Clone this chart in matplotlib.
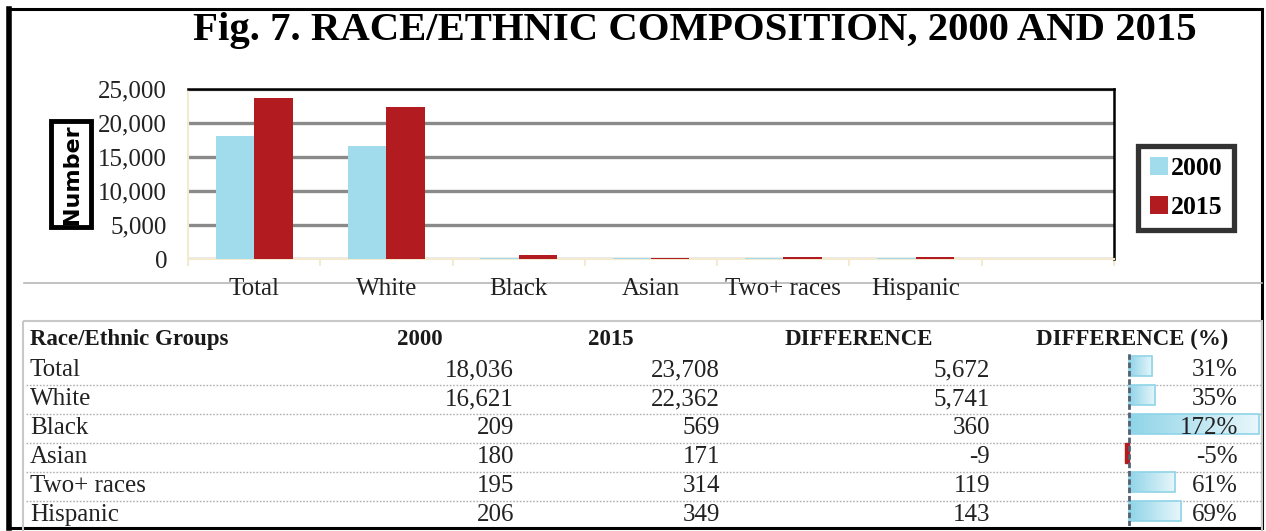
import matplotlib
matplotlib.use("Agg")
import matplotlib.pyplot as plt
import numpy as np
from matplotlib.patches import Rectangle
from matplotlib.lines import Line2D
from matplotlib.colors import LinearSegmentedColormap

# ---------------- data ----------------
categories = ["Total", "White", "Black", "Asian", "Two+ races", "Hispanic"]
values_2000 = [18036, 16621, 209, 180, 195, 206]
values_2015 = [23708, 22362, 569, 171, 314, 349]
difference = [5672, 5741, 360, -9, 119, 143]
difference_pct = [31, 35, 172, -5, 61, 69]
series_labels = ["2000", "2015"]
yticks = [0, 5000, 10000, 15000, 20000, 25000]
title = "Fig. 7. RACE/ETHNIC COMPOSITION, 2000 AND 2015"
table_headers = ["Race/Ethnic Groups", "2000", "2015", "DIFFERENCE", "DIFFERENCE (%)"]

# ---------------- style ----------------
W, H = 1266, 531
DPI = 100
SERIF = ["Liberation Serif", "DejaVu Serif"]
C2000 = "#A0DCEC"
C2015 = "#B21C21"
BEIGE = "#F3EAD0"
TXT = "#222222"

fig = plt.figure(figsize=(W / DPI, H / DPI), dpi=DPI)
fig.patch.set_facecolor("white")


def fx(px):
    return px / W


def fy(py):
    return 1 - py / H


def rect_axes(x0, y0, x1, y1):
    return [fx(x0), fy(y1), fx(x1) - fx(x0), fy(y0) - fy(y1)]


def pixel_axes(z):
    a = fig.add_axes([0, 0, 1, 1], zorder=z)
    a.set_xlim(0, W)
    a.set_ylim(H, 0)
    a.axis("off")
    a.patch.set_alpha(0)
    return a


deco = pixel_axes(0)
top = pixel_axes(10)

# outer frame
deco.add_patch(Rectangle((9, 9), 1253, 519, fill=False, edgecolor="black", lw=2.2))
deco.add_line(Line2D([9, 9], [9, 528], color="black", lw=4))

# title
deco.text(695, 40, title, ha="center", va="baseline", fontsize=29.3,
          fontweight="bold", family=SERIF)

# light grey line behind category labels
deco.add_line(Line2D([24, 1262], [283, 283], color="#B8B8B8", lw=1.2))

# ---------------- bar chart ----------------
ax = fig.add_axes(rect_axes(188, 89, 1114, 259), zorder=2)
ax.patch.set_alpha(0)
n_slots = len(categories) + 1
x = np.arange(len(categories))
bw = 0.29
ax.bar(x - bw / 2, values_2000, bw, color=C2000, label=series_labels[0], zorder=3)
ax.bar(x + bw / 2, values_2015, bw, color=C2015, label=series_labels[1], zorder=3)
ax.set_xlim(-0.5, n_slots - 0.5)
ax.set_ylim(yticks[0], yticks[-1])
ax.set_yticks(yticks)
ax.set_yticklabels([f"{v:,}" for v in yticks], family=SERIF, fontsize=18, color=TXT)
ax.tick_params(axis="y", length=0, pad=15)
ax.yaxis.grid(True, color="#8A8A8A", lw=2.4, zorder=1)
ax.set_axisbelow(True)
ax.set_xticks(x)
ax.set_xticklabels(categories, family=SERIF, fontsize=18, color=TXT)
ax.tick_params(axis="x", length=0, pad=14)
ax.set_xticks(np.arange(n_slots + 1) - 0.5, minor=True)
ax.tick_params(axis="x", which="minor", length=5, color=BEIGE, width=1.5)
for s in ["top", "right"]:
    ax.spines[s].set_color("black")
    ax.spines[s].set_linewidth(1.8)
for s in ["left", "bottom"]:
    ax.spines[s].set_color(BEIGE)
    ax.spines[s].set_linewidth(1.5)

# y label in a box
deco.add_patch(Rectangle((51, 121), 40, 106, fill=False, edgecolor="black", lw=3.5, zorder=5))
deco.text(72, 174, "Number", rotation=90, ha="center", va="center",
          fontsize=16, fontweight="bold", family=["DejaVu Sans"], zorder=6)

# legend
leg = fig.legend(*ax.get_legend_handles_labels(), loc="center",
                 bbox_to_anchor=(fx(1186), fy(188)), frameon=True,
                 prop={"family": SERIF, "size": 18.5, "weight": "bold"},
                 handlelength=0.7, handleheight=0.7, handletextpad=0.1,
                 labelspacing=0.6, borderpad=0.45, fancybox=False)
leg.get_frame().set_edgecolor("black")
leg.get_frame().set_linewidth(3.8)

# ---------------- table ----------------
deco.add_patch(Rectangle((23, 321), 1239, 215, fill=False, edgecolor="#C8C8C8", lw=1.5))
header_base = 345
row0 = 376
row_step = 29
hdr_x = [30, 420, 611, 859, 1132]
hdr_ha = ["left", "center", "center", "center", "center"]
for t, xx, ha in zip(table_headers, hdr_x, hdr_ha):
    top.text(xx, header_base, t, ha=ha, va="baseline", fontsize=16.5,
             fontweight="bold", family=SERIF, color="#1a1a1a")

FS = 18
for i, cat in enumerate(categories):
    yb = row0 + i * row_step
    top.text(30, yb, cat, ha="left", va="baseline", fontsize=FS, family=SERIF, color=TXT)
    top.text(514, yb, f"{values_2000[i]:,}", ha="right", va="baseline", fontsize=FS, family=SERIF, color=TXT)
    top.text(720, yb, f"{values_2015[i]:,}", ha="right", va="baseline", fontsize=FS, family=SERIF, color=TXT)
    top.text(990, yb, f"{difference[i]:,}", ha="right", va="baseline", fontsize=FS, family=SERIF, color=TXT)
    top.text(1238, yb, f"{difference_pct[i]}%", ha="right", va="baseline", fontsize=FS, family=SERIF, color=TXT)
    if i < len(categories) - 1:
        deco.add_line(Line2D([26, 1262], [yb + 9, yb + 9], color="#B0B0B0",
                             lw=1.0, ls=(0, (1.2, 1.2))))

# data bars for percentage column
px_per_pct = 0.756
zero_x = 1129
axL, axR = 1100, 1262
axb = fig.add_axes(rect_axes(axL, row0 - 10 - row_step / 2, axR, row0 - 10 + row_step * 5.5), zorder=3)
axb.patch.set_alpha(0)
grad = np.linspace(0, 1, 256).reshape(1, -1)
cmap_b = LinearSegmentedColormap.from_list("b", ["#8FD4E8", "#E9F7FB"])
bh = 0.7
for i, p in enumerate(difference_pct):
    if p >= 0:
        bar = axb.barh(i, p, height=bh, color="none", edgecolor="#8FD4E8", lw=1.2, zorder=2)[0]
        im = axb.imshow(grad, extent=(0, p, i + bh / 2, i - bh / 2), cmap=cmap_b,
                        aspect="auto", zorder=1, interpolation="bilinear")
        im.set_clip_path(bar)
    else:
        axb.barh(i, p, height=bh, color=C2015, edgecolor=C2015, zorder=2)
axb.set_xlim((axL - zero_x) / px_per_pct, (axR - zero_x) / px_per_pct)
axb.set_ylim(len(categories) - 0.5, -0.5)
axb.axis("off")
axb.axvline(0, color="#556070", lw=2, ls=(0, (2, 1)), zorder=3)

fig.savefig("out.png", dpi=DPI, facecolor="white")
